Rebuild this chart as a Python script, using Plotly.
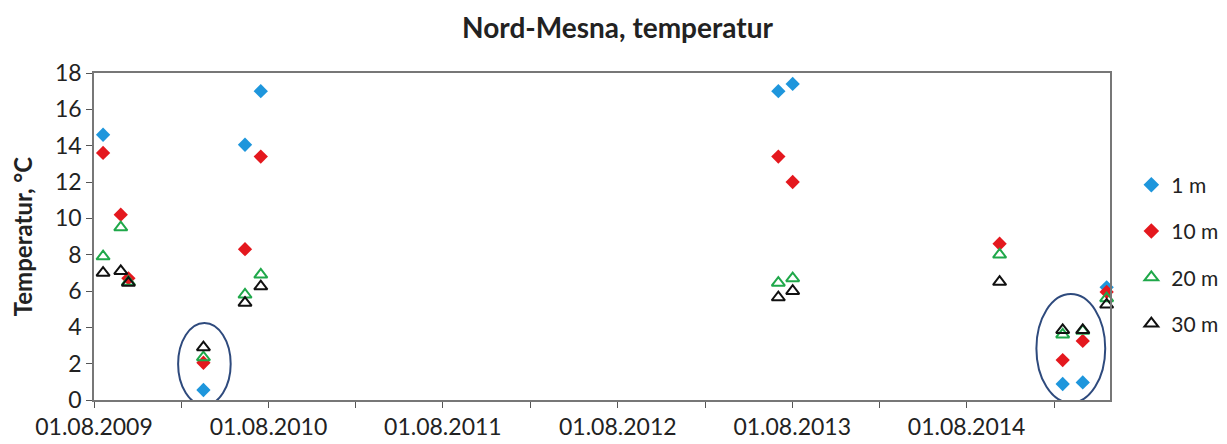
import plotly.graph_objects as go

# ---- data ----
dates = ["2009-08-20", "2009-09-26", "2009-10-12", "2010-03-18", "2010-06-13", "2010-07-16",
         "2013-07-03", "2013-08-02", "2014-10-09", "2015-02-18", "2015-04-01", "2015-05-21"]
t_1m  = [14.6, None, None, 0.55, 14.05, 17.0, 17.0, 17.4, None, 0.88, 0.97, 6.2]
t_10m = [13.6, 10.2, 6.7, 2.05, 8.3, 13.4, 13.4, 12.0, 8.6, 2.2, 3.25, 5.95]
t_20m = [7.9, 9.5, 6.5, 2.35, 5.8, 6.9, 6.45, 6.7, 8.0, 3.6, 3.8, 5.6]
t_30m = [7.0, 7.1, 6.45, 2.9, 5.35, 6.25, 5.65, 6.0, 6.5, 3.85, 3.85, 5.25]

series_names = ["1 m", "10 m", "20 m", "30 m"]

tick_dates = ["2009-08-01", "2010-01-31", "2010-08-01", "2011-01-31", "2011-08-01", "2012-01-31",
              "2012-08-01", "2013-01-31", "2013-08-01", "2014-01-31", "2014-08-01", "2015-01-31"]
tick_labels = ["01.08.2009", "", "01.08.2010", "", "01.08.2011", "", "01.08.2012", "",
               "01.08.2013", "", "01.08.2014", ""]

# circled groups (winter measurements)
circle1 = dict(x0="2010-01-24", x1="2010-05-14", y0=-0.28, y1=4.24)
circle2 = dict(x0="2014-12-25", x1="2015-05-18", y0=-0.15, y1=5.83)

FONT = "Lato, Carlito, Calibri, 'Open Sans', sans-serif"

fig = go.Figure()
styles = [
    dict(symbol="diamond", size=11, color="#1E96DC", line=dict(width=0)),
    dict(symbol="diamond", size=11, color="#E4181E", line=dict(width=0)),
    dict(symbol="triangle-up-open", size=11.5, color="#1FA84A", line=dict(width=2, color="#1FA84A")),
    dict(symbol="triangle-up-open", size=11.5, color="#111111", line=dict(width=2, color="#111111")),
]
for name, vals, st in zip(series_names, [t_1m, t_10m, t_20m, t_30m], styles):
    fig.add_trace(go.Scatter(
        x=dates, y=vals, mode="markers", name=name, marker=st,
        cliponaxis=False, legendgroup=name,
    ))

for c in (circle1, circle2):
    fig.add_shape(type="circle", xref="x", yref="y", **c,
                  line=dict(color="#2E4A7D", width=2), layer="above")

fig.update_layout(
    width=1219, height=436,
    margin=dict(l=86, r=117, t=65, b=44, autoexpand=False),
    paper_bgcolor="white", plot_bgcolor="white",
    font=dict(family=FONT, size=23, color="#222222"),
    title=dict(text="<b>Nord-Mesna, temperatur</b>", x=0.5, xanchor="center",
               y=0.954, yanchor="middle", font=dict(size=28, family=FONT, color="#222222")),
    showlegend=True,
    legend=dict(x=1.021, y=0.72, xanchor="left", yanchor="top",
                font=dict(size=21, family=FONT), tracegroupgap=16,
                itemsizing="constant", itemwidth=30, bgcolor="rgba(0,0,0,0)"),
)
fig.update_xaxes(
    type="date", range=["2009-08-01", "2015-05-28"], automargin=False,
    tickmode="array", tickvals=tick_dates, ticktext=tick_labels,
    ticks="outside", ticklen=6, tickcolor="#555555", tickwidth=1,
    showline=True, linecolor="#777777", linewidth=1.5, mirror=True,
    showgrid=False, zeroline=False,
    tickfont=dict(size=23, family=FONT),
)
fig.update_yaxes(
    range=[0, 18], dtick=2, tick0=0, automargin=False,
    ticks="outside", ticklen=6, tickcolor="#555555", tickwidth=1,
    showline=True, linecolor="#777777", linewidth=1.5, mirror=True,
    showgrid=False, zeroline=False,
    tickfont=dict(size=23, family=FONT),
    title=dict(text="<b>Temperatur, °C</b>", font=dict(size=24, family=FONT), standoff=16),
)

fig.write_html("out.html")
